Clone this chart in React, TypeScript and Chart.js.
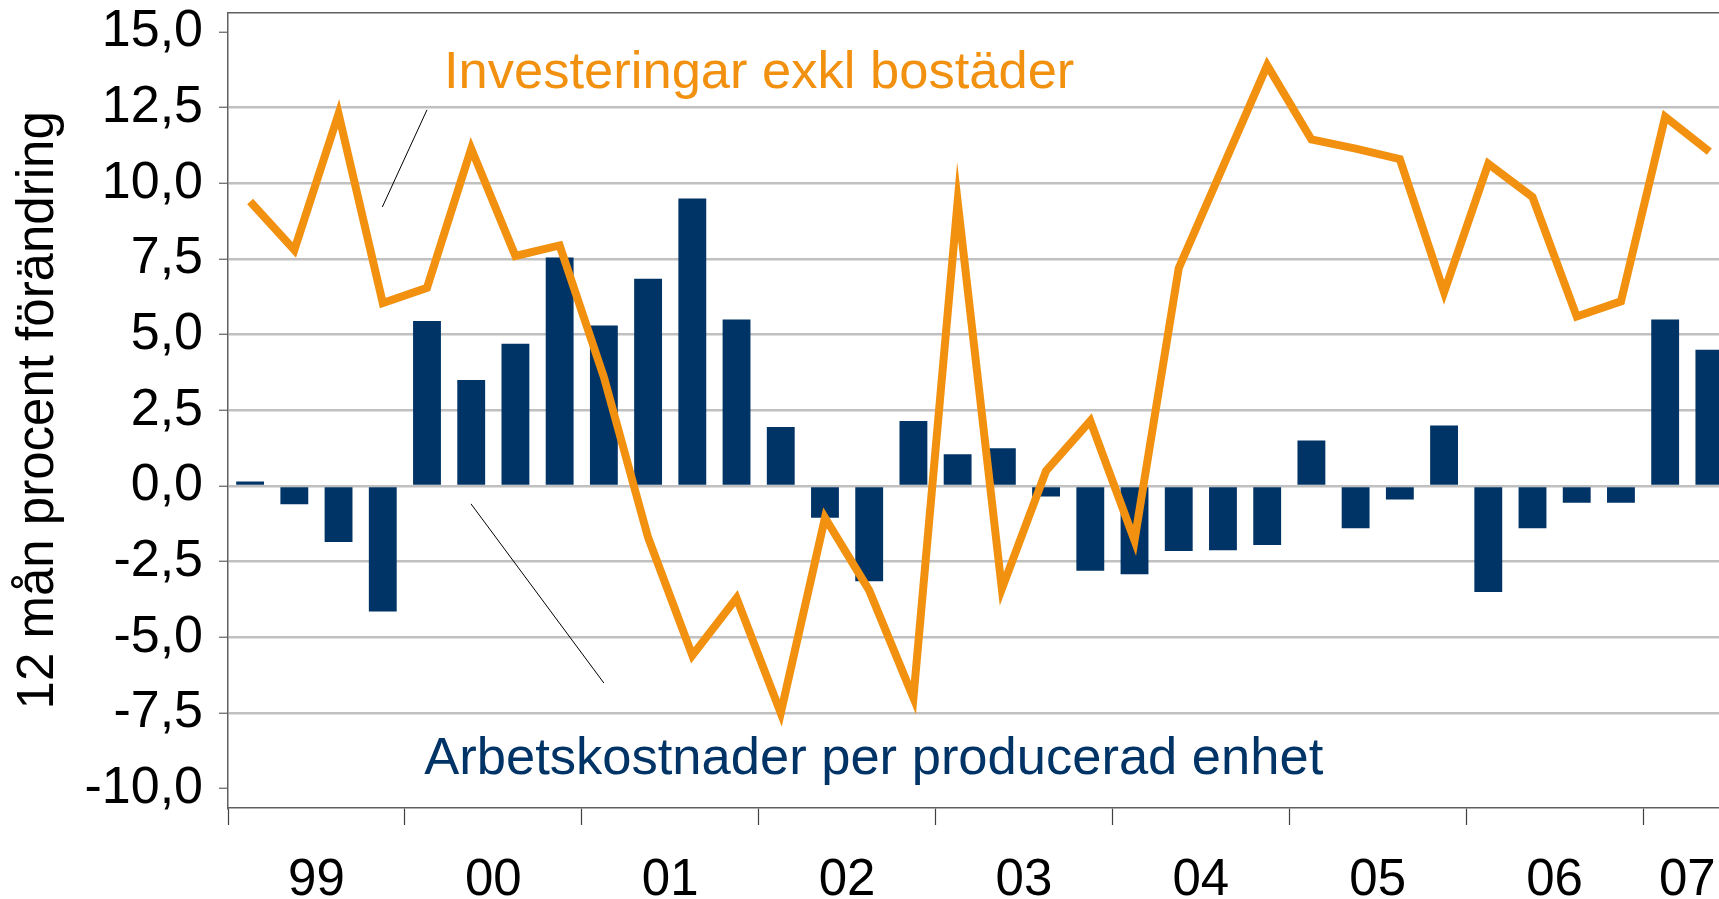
import { useEffect, useRef } from "react";
import { Chart, registerables } from "chart.js";

Chart.register(...registerables);

// Quarterly categories 1999 Q1 – 2007 Q2
const quarters = [
  "1999 K1", "1999 K2", "1999 K3", "1999 K4",
  "2000 K1", "2000 K2", "2000 K3", "2000 K4",
  "2001 K1", "2001 K2", "2001 K3", "2001 K4",
  "2002 K1", "2002 K2", "2002 K3", "2002 K4",
  "2003 K1", "2003 K2", "2003 K3", "2003 K4",
  "2004 K1", "2004 K2", "2004 K3", "2004 K4",
  "2005 K1", "2005 K2", "2005 K3", "2005 K4",
  "2006 K1", "2006 K2", "2006 K3", "2006 K4",
  "2007 K1", "2007 K2",
];

const yearLabels = ["99", "00", "01", "02", "03", "04", "05", "06", "07"];

// Arbetskostnader per producerad enhet (bars)
const laborCost = [
  0.15, -0.6, -1.85, -4.15,
  5.45, 3.5, 4.7, 7.55,
  5.3, 6.85, 9.5, 5.5,
  1.95, -1.05, -3.15, 2.15,
  1.05, 1.25, -0.35, -2.8,
  -2.92, -2.15, -2.12, -1.95,
  1.5, -1.4, -0.45, 2.0,
  -3.5, -1.4, -0.55, -0.55,
  5.5, 4.5,
];

// Investeringar exkl bostäder (line)
const investment = [
  9.4, 7.8, 12.3, 6.05,
  6.55, 11.15, 7.6, 7.95,
  3.6, -1.7, -5.6, -3.7,
  -7.5, -1.05, -3.45, -7.0,
  9.4, -3.4, 0.5, 2.15,
  -1.8, 7.2, 10.55, 13.9,
  11.45, 11.15, 10.8, 6.4,
  10.65, 9.55, 5.6, 6.1,
  12.2, 11.05,
];

const yTicks = [-10, -7.5, -5, -2.5, 0, 2.5, 5, 7.5, 10, 12.5, 15];
const Y_MIN = -10.64;
const Y_MAX = 15.64;

const yTitle = "12 mån procent förändring";
const investLabel = "Investeringar exkl bostäder";
const laborLabel = "Arbetskostnader per producerad enhet";

const ORANGE = "#F2910F";
const NAVY = "#003366";
const FONT = "'Liberation Sans', Arial, Helvetica, sans-serif";

// Annotation anchors in data coordinates (category index, value)
const textNotes = [
  { text: investLabel, color: ORANGE, x: 4.385, y: 13.15 },
  { text: laborLabel, color: NAVY, x: 3.94, y: -9.52 },
];
const leaderLines = [
  { x1: 4.0, y1: 12.43, x2: 2.99, y2: 9.22 },
  { x1: 4.995, y1: -0.59, x2: 8.0, y2: -6.51 },
];

const annotationPlugin = {
  id: "notes",
  afterDatasetsDraw(chart: any) {
    const { ctx } = chart;
    const xs = chart.scales.x;
    const ys = chart.scales.y;
    ctx.save();
    ctx.strokeStyle = "#000";
    ctx.lineWidth = 1;
    for (const l of leaderLines) {
      ctx.beginPath();
      ctx.moveTo(xs.getPixelForValue(l.x1), ys.getPixelForValue(l.y1));
      ctx.lineTo(xs.getPixelForValue(l.x2), ys.getPixelForValue(l.y2));
      ctx.stroke();
    }
    ctx.font = `52.5px ${FONT}`;
    ctx.textAlign = "left";
    ctx.textBaseline = "alphabetic";
    for (const t of textNotes) {
      ctx.fillStyle = t.color;
      ctx.fillText(t.text, xs.getPixelForValue(t.x), ys.getPixelForValue(t.y));
    }
    ctx.restore();
  },
};

const N = quarters.length;

const noPad = (s: any) => {
  s.paddingTop = 0;
  s.paddingBottom = 0;
  s.paddingLeft = 0;
  s.paddingRight = 0;
};

export default function App() {
  const ref = useRef<HTMLCanvasElement>(null);

  useEffect(() => {
    if (!ref.current) return;
    const chart = new Chart(ref.current, {
      type: "bar",
      data: {
        labels: quarters,
        datasets: [
          {
            type: "line",
            label: investLabel,
            data: investment,
            borderColor: ORANGE,
            borderWidth: 8,
            pointRadius: 0,
            tension: 0,
            borderJoinStyle: "miter",
            order: 1,
          } as any,
          {
            type: "bar",
            label: laborLabel,
            data: laborCost,
            backgroundColor: NAVY,
            borderWidth: 0,
            barPercentage: 0.63,
            categoryPercentage: 1,
            order: 2,
          },
        ],
      },
      options: {
        responsive: false,
        animation: false,
        devicePixelRatio: 1,
        layout: { padding: { left: 0, right: 8.5, top: 12.7, bottom: 0 } },
        plugins: {
          legend: { display: false },
          tooltip: { enabled: false },
        },
        scales: {
          x: {
            type: "category",
            position: "bottom",
            offset: true,
            grid: {
              offset: true,
              drawOnChartArea: false,
              drawTicks: true,
              tickLength: 17,
              tickWidth: 1.2,
              tickColor: (c: any) => (c.index % 4 === 0 ? "#404040" : "rgba(0,0,0,0)"),
            },
            border: { display: true, color: "#606060", width: 1.5 },
            ticks: {
              autoSkip: false,
              maxRotation: 0,
              minRotation: 0,
              padding: 25,
              labelOffset: 22.1,
              color: "#000",
              font: { family: FONT, size: 51 },
              callback: (_v: any, index: number) => {
                const yr = Math.floor(index / 4);
                const n = Math.min(4, N - 4 * yr);
                return index === 4 * yr + n / 2 - 1 ? yearLabels[yr] : "";
              },
            },
            afterFit: (s: any) => {
              s.height = 91;
              noPad(s);
            },
          },
          xTop: {
            type: "category",
            labels: quarters,
            position: "top",
            offset: true,
            grid: { display: false, drawTicks: false },
            ticks: { display: false },
            border: { display: true, color: "#606060", width: 1.5 },
            afterFit: (s: any) => {
              s.height = 0;
              noPad(s);
            },
          },
          y: {
            type: "linear",
            min: Y_MIN,
            max: Y_MAX,
            afterBuildTicks: (s: any) => {
              s.ticks = yTicks.map((v) => ({ value: v }));
            },
            grid: {
              color: (c: any) =>
                c.tick && (c.tick.value === yTicks[0] || c.tick.value === yTicks[yTicks.length - 1])
                  ? "rgba(0,0,0,0)"
                  : "#C0C0C0",
              lineWidth: 2.5,
              drawTicks: true,
              tickLength: 9,
              tickWidth: 1.2,
              tickColor: "#606060",
            },
            border: { display: true, color: "#606060", width: 1.5 },
            ticks: {
              padding: 16,
              color: "#000",
              font: { family: FONT, size: 52 },
              callback: (v: any) => Number(v).toFixed(1).replace(".", ","),
            },
            title: {
              display: true,
              text: yTitle,
              color: "#000",
              font: { family: FONT, size: 51 },
              padding: { top: 8, bottom: 0 },
            },
            afterFit: (s: any) => {
              s.width = 228;
              noPad(s);
            },
          },
        },
      },
      plugins: [annotationPlugin],
    });
    return () => chart.destroy();
  }, []);

  return (
    <div
      style={{
        position: "fixed",
        left: 0,
        top: 0,
        width: 1719,
        height: 899,
        overflow: "hidden",
        background: "#fff",
      }}
    >
      <canvas ref={ref} width={1740} height={899} style={{ width: 1740, height: 899, display: "block" }} />
    </div>
  );
}
